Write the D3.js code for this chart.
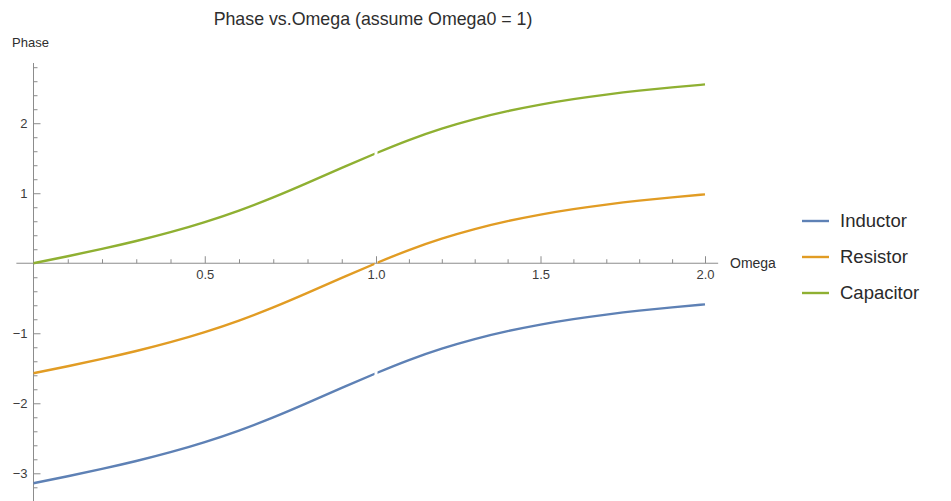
<!DOCTYPE html>
<html>
<head>
<meta charset="utf-8">
<script src="https://cdn.jsdelivr.net/npm/d3@7"></script>
<style>
  body { margin: 0; background: #fff; }
  text { font-family: "Liberation Sans", Arial, sans-serif; }
</style>
</head>
<body>
<div class="canvas"></div>
<script>
// data
const omega = [0, 0.1, 0.2, 0.3, 0.4, 0.5, 0.6, 0.7, 0.8, 0.9, 1.0,
               1.1, 1.2, 1.3, 1.4, 1.5, 1.6, 1.7, 1.8, 1.9, 2.0];
const inductor  = [-3.142, -3.042, -2.937, -2.824, -2.698, -2.554, -2.389, -2.201, -1.994, -1.779, -1.571,
                   -1.383, -1.220, -1.083, -0.970, -0.876, -0.798, -0.733, -0.677, -0.630, -0.588];
const resistor  = [-1.571, -1.471, -1.366, -1.253, -1.127, -0.983, -0.818, -0.630, -0.423, -0.208, 0.000,
                   0.188, 0.351, 0.488, 0.601, 0.695, 0.773, 0.838, 0.894, 0.941, 0.983];
const capacitor = [0.000, 0.100, 0.205, 0.318, 0.444, 0.588, 0.753, 0.941, 1.148, 1.363, 1.571,
                   1.759, 1.922, 2.059, 2.172, 2.266, 2.344, 2.409, 2.465, 2.512, 2.554];
const seriesNames = ['Inductor', 'Resistor', 'Capacitor'];
const colors = ['#5e81b5', '#e19c24', '#8fb032'];
const xMajor = [0.5, 1.0, 1.5, 2.0];
const yMajor = [-3, -2, -1, 1, 2];

const W = 951, H = 501;
const svg = d3.select('.canvas').append('svg')
    .attr('width', W).attr('height', H);

// the picture is a little wider on the left half, so the x scale has a middle stop
const x = d3.scaleLinear().domain([0, 1, 2]).range([33.5, 376, 705]);
const y = d3.scaleLinear().domain([-3.41, 2.86]).range([502, 63]);

const axisColor = '#8c8c8c';
const labelColor = '#3c3c3c';

// x axis line
svg.append('line')
    .attr('x1', x(-0.05)).attr('x2', x(2.04))
    .attr('y1', y(0)).attr('y2', y(0))
    .attr('stroke', axisColor);
// y axis line
svg.append('line')
    .attr('x1', x(0)).attr('x2', x(0))
    .attr('y1', y(2.86)).attr('y2', H)
    .attr('stroke', axisColor);

// x ticks (pointing up)
const xMinorG = svg.append('g').attr('transform', 'translate(0,' + y(0) + ')')
    .call(d3.axisTop(x).tickValues(d3.range(1, 21).map(d => d / 10).filter(d => Math.round(d * 10) % 5 != 0))
        .tickSize(4).tickFormat(''));
const xMajorG = svg.append('g').attr('transform', 'translate(0,' + y(0) + ')')
    .call(d3.axisTop(x).tickValues(xMajor).tickSize(7).tickFormat(''));
const xLabelG = svg.append('g').attr('transform', 'translate(0,' + y(0) + ')')
    .call(d3.axisBottom(x).tickValues(xMajor).tickSize(0).tickPadding(7).tickFormat(d3.format('.1f')));

// y ticks (pointing right)
const yMinorVals = d3.range(-17, 15).map(d => d / 5).filter(d => Math.abs(d - Math.round(d)) > 0.01);
const yMinorG = svg.append('g').attr('transform', 'translate(' + x(0) + ',0)')
    .call(d3.axisRight(y).tickValues(yMinorVals).tickSize(4).tickFormat(''));
const yMajorG = svg.append('g').attr('transform', 'translate(' + x(0) + ',0)')
    .call(d3.axisRight(y).tickValues(yMajor).tickSize(7).tickFormat(''));
const yLabelG = svg.append('g').attr('transform', 'translate(' + x(0) + ',0)')
    .call(d3.axisLeft(y).tickValues(yMajor).tickSize(0).tickPadding(6).tickFormat(d3.format('d')));

[xMinorG, xMajorG, xLabelG, yMinorG, yMajorG, yLabelG].forEach(g => {
    g.select('.domain').remove();
    g.selectAll('line').attr('stroke', axisColor);
    g.selectAll('text')
        .attr('fill', labelColor)
        .style('font-size', '13px')
        .style('font-family', '"Liberation Sans", Arial, sans-serif');
});

// small gap at omega = 1 like the reference
const clip = svg.append('clipPath').attr('id', 'gap');
clip.append('rect').attr('x', 0).attr('y', 0).attr('width', x(1) - 1.5).attr('height', H);
clip.append('rect').attr('x', x(1) + 1.5).attr('y', 0).attr('width', W).attr('height', H);

const line = d3.line()
    .x(d => x(d[0]))
    .y(d => y(d[1]))
    .curve(d3.curveNatural);

const allSeries = [inductor, resistor, capacitor];
svg.append('g').attr('clip-path', 'url(#gap)')
    .selectAll('path')
    .data(allSeries)
    .enter().append('path')
    .attr('d', vals => line(omega.map((o, i) => [o, vals[i]])))
    .attr('fill', 'none')
    .attr('stroke', (d, i) => colors[i])
    .attr('stroke-width', 2.4);

// title and axis labels
svg.append('text')
    .attr('x', 373).attr('y', 25)
    .attr('text-anchor', 'middle')
    .attr('fill', '#2e2e2e')
    .style('font-size', '17.8px')
    .text('Phase vs.Omega (assume Omega0 = 1)');

svg.append('text')
    .attr('x', 12).attr('y', 47)
    .attr('fill', '#2e2e2e')
    .style('font-size', '13px')
    .text('Phase');

svg.append('text')
    .attr('x', 730).attr('y', 268)
    .attr('fill', '#2e2e2e')
    .style('font-size', '14px')
    .text('Omega');

// legend
const legend = svg.append('g').selectAll('g')
    .data(seriesNames)
    .enter().append('g')
    .attr('transform', (d, i) => 'translate(802,' + (221 + i * 36) + ')');

legend.append('line')
    .attr('x1', 0).attr('x2', 27)
    .attr('stroke', (d, i) => colors[i])
    .attr('stroke-width', 2.4);

legend.append('text')
    .attr('x', 38).attr('y', 6)
    .attr('fill', '#2a2a2a')
    .style('font-size', '18.5px')
    .text(d => d);
</script>
</body>
</html>
